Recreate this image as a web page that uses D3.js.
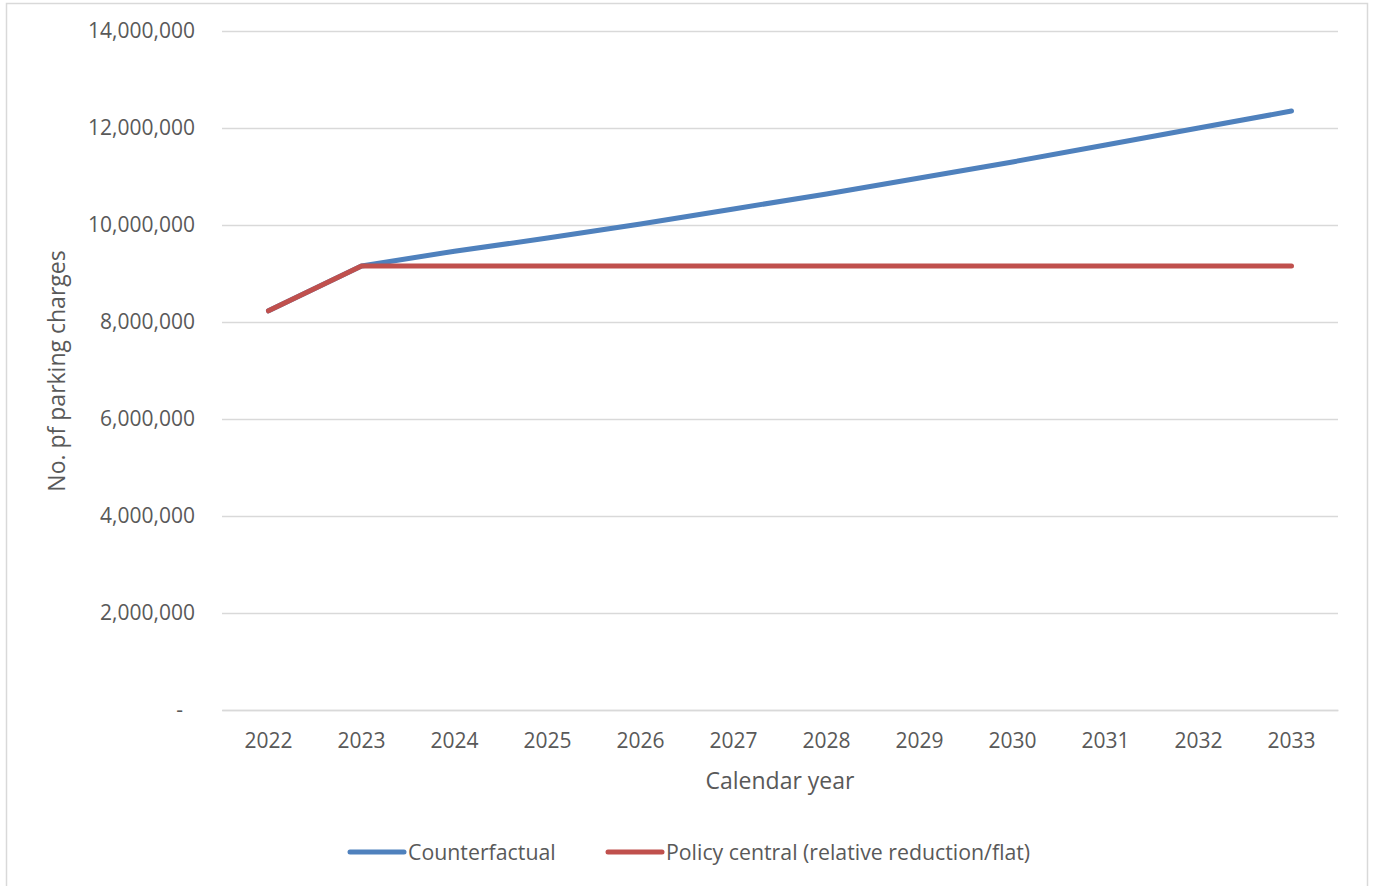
<!DOCTYPE html>
<html>
<head>
<meta charset="utf-8">
<script src="https://cdn.jsdelivr.net/npm/d3@7"></script>
<style>
  html, body { margin: 0; padding: 0; background: #fff; }
  svg { display: block; }
  text { font-family: "Open Sans", "Liberation Sans", sans-serif; fill: #595959; }
</style>
</head>
<body>
<svg id="chart" width="1373" height="886"></svg>
<script>
// Calendar years on the x axis
const years = ["2022","2023","2024","2025","2026","2027","2028","2029","2030","2031","2032","2033"];
// Number of parking charges per year
const counterfactual = [8230000, 9155000, 9460000, 9730000, 10020000, 10330000, 10640000, 10970000, 11300000, 11650000, 12000000, 12350000];
const policyCentral  = [8230000, 9155000, 9155000, 9155000, 9155000, 9155000, 9155000, 9155000, 9155000, 9155000, 9155000, 9155000];
const yTicks = [0, 2000000, 4000000, 6000000, 8000000, 10000000, 12000000, 14000000];
const seriesNames = ["Counterfactual", "Policy central (relative reduction/flat)"];
const seriesColors = ["#4f81bd", "#c0504d"];

const svg = d3.select("#chart");

// outer chart frame
svg.append("rect")
  .attr("x", 6.5).attr("y", 3.5).attr("width", 1361).attr("height", 900)
  .attr("fill", "none").attr("stroke", "#d9d9d9").attr("stroke-width", 1.5);

const plot = { left: 222, right: 1338, top: 31, bottom: 710 };

const x = d3.scaleBand().domain(years).range([plot.left, plot.right]).padding(0);
const y = d3.scaleLinear().domain([0, 14000000]).range([plot.bottom, plot.top]);

const fmt = d3.format(",");
const tickFont = 21;

// horizontal gridlines and y labels
const yAxis = svg.append("g")
  .attr("transform", `translate(${plot.left},0)`)
  .call(d3.axisLeft(y).tickValues(yTicks)
    .tickSize(-(plot.right - plot.left))
    .tickPadding(27)
    .tickFormat(d => d === 0 ? "-" : fmt(d)));
yAxis.select(".domain").remove();
yAxis.selectAll(".tick line").attr("stroke", "#d9d9d9").attr("stroke-width", 1.5);
yAxis.selectAll(".tick text")
  .attr("font-size", tickFont).attr("fill", "#595959")
  .style("font-family", "'Open Sans', sans-serif");
yAxis.selectAll(".tick").filter(d => d === 0).select("text").attr("dx", -12);

// x axis
const xAxis = svg.append("g")
  .attr("transform", `translate(0,${plot.bottom})`)
  .call(d3.axisBottom(x).tickSize(0).tickPadding(23));
xAxis.select(".domain").attr("stroke", "#d9d9d9").attr("stroke-width", 1.5);
xAxis.selectAll(".tick text")
  .attr("font-size", tickFont).attr("fill", "#595959")
  .style("font-family", "'Open Sans', sans-serif");

// axis titles
svg.append("text")
  .attr("x", 780).attr("y", 789)
  .attr("text-anchor", "middle").attr("font-size", 23)
  .text("Calendar year");
svg.append("text")
  .attr("transform", "translate(65,371) rotate(-90)")
  .attr("text-anchor", "middle").attr("font-size", 23)
  .text("No. pf parking charges");

// series lines
const line = d3.line()
  .x((d, i) => x(years[i]) + x.bandwidth() / 2)
  .y(d => y(d));

[counterfactual, policyCentral].forEach((vals, k) => {
  svg.append("path")
    .datum(vals)
    .attr("d", line)
    .attr("fill", "none")
    .attr("stroke", seriesColors[k])
    .attr("stroke-width", 5)
    .attr("stroke-linecap", "round")
    .attr("stroke-linejoin", "round");
});

// legend
const legendX = [350, 608];
seriesNames.forEach((name, k) => {
  const g = svg.append("g").attr("transform", `translate(${legendX[k]},852)`);
  g.append("line")
    .attr("x1", 0).attr("x2", 54).attr("y1", 0).attr("y2", 0)
    .attr("stroke", seriesColors[k]).attr("stroke-width", 5)
    .attr("stroke-linecap", "round");
  g.append("text")
    .attr("x", 58).attr("y", 7.5)
    .attr("font-size", 21.3)
    .text(name);
});
</script>
</body>
</html>
